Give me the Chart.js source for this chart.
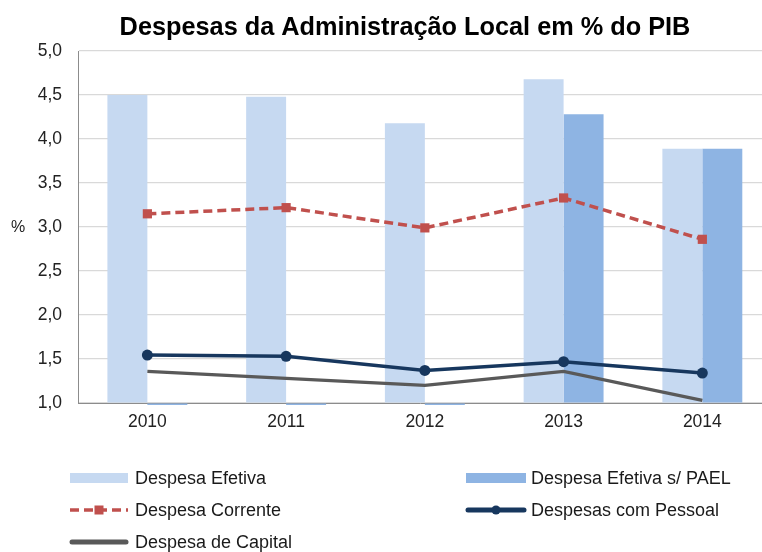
<!DOCTYPE html>
<html><head><meta charset="utf-8">
<script src="https://cdn.jsdelivr.net/npm/chart.js@4"></script>
<style>html,body{margin:0;padding:0;background:#fff;overflow:hidden}#wrap{width:762px;height:552px;position:relative}</style>
</head><body><div id="wrap"><canvas id="c" width="762" height="552"></canvas></div>
<script>
const chartTitle = 'Despesas da Administração Local em % do PIB';
const yAxisLabel = '%';
const years = ['2010', '2011', '2012', '2013', '2014'];
const despesaEfetiva = [4.50, 4.48, 4.18, 4.68, 3.89];
const despesaEfetivaPAEL = [0, 0, 0, 4.28, 3.89];
const despesaCorrente = [3.15, 3.22, 2.99, 3.33, 2.86];
const despesasPessoal = [1.545, 1.53, 1.37, 1.47, 1.34];
const despesaCapital = [1.36, 1.28, 1.20, 1.36, 1.03];
const seriesNames = ['Despesa Efetiva', 'Despesa Efetiva s/ PAEL', 'Despesa Corrente', 'Despesas com Pessoal', 'Despesa de Capital'];
const yMin = 1.0, yMax = 5.0, yStep = 0.5;

const FONT = "'Liberation Sans', Arial, sans-serif";
const toPts = arr => arr.map((v, i) => ({ x: i, y: v }));

const decoPlugin = {
  id: 'deco',
  afterDraw(chart) {
    const ctx = chart.ctx;
    ctx.save();
    ctx.fillStyle = '#000';
    ctx.font = "bold 25.3px " + FONT;
    ctx.textAlign = 'center';
    ctx.textBaseline = 'alphabetic';
    ctx.fillText(chartTitle, 405, 35);
    ctx.font = "16px " + FONT;
    ctx.fillStyle = '#222';
    ctx.textBaseline = 'middle';
    ctx.fillText(yAxisLabel, 18, 228);
    const cols = [{ x: 70, w: 58, tx: 135 }, { x: 466, w: 60, tx: 531 }];
    const rows = [478, 510, 542];
    const layout = [[0, 0, 0], [1, 1, 0], [2, 0, 1], [3, 1, 1], [4, 0, 2]];
    layout.forEach(([di, c, r]) => {
      const ds = chart.data.datasets[di];
      const col = cols[c], y = rows[r];
      if (ds.type === 'bar') {
        ctx.fillStyle = ds.backgroundColor;
        ctx.fillRect(col.x, y - 5, col.w, 10);
      } else {
        ctx.strokeStyle = ds.borderColor;
        ctx.lineWidth = ds.legendLineWidth || ds.borderWidth;
        ctx.lineCap = ds.borderDash ? 'butt' : 'round';
        ctx.setLineDash(ds.borderDash || []);
        ctx.beginPath();
        ctx.moveTo(col.x + (ds.borderDash ? 0 : 2), y);
        ctx.lineTo(col.x + col.w - (ds.borderDash ? 0 : 2), y);
        ctx.stroke();
        ctx.setLineDash([]);
        if (ds.pointRadius > 0) {
          ctx.fillStyle = ds.pointBackgroundColor;
          const cx = col.x + col.w / 2;
          if (ds.pointStyle === 'rect') {
            ctx.fillRect(cx - 4.5, y - 4.5, 9, 9);
          } else {
            ctx.beginPath();
            ctx.arc(cx, y, 4.5, 0, Math.PI * 2);
            ctx.fill();
          }
        }
      }
      ctx.fillStyle = '#1a1a1a';
      ctx.font = "18px " + FONT;
      ctx.textAlign = 'left';
      ctx.textBaseline = 'middle';
      ctx.fillText(ds.label, col.tx, y + 1);
    });
    ctx.restore();
  }
};

new Chart(document.getElementById('c'), {
  type: 'bar',
  data: {
    datasets: [
      { type: 'bar', label: seriesNames[0], data: toPts(despesaEfetiva), backgroundColor: '#C6D9F1', order: 5,
        base: yMin, categoryPercentage: 0.576, barPercentage: 1.0 },
      { type: 'bar', label: seriesNames[1], data: toPts(despesaEfetivaPAEL), backgroundColor: '#8EB4E3', order: 5,
        base: yMin, categoryPercentage: 0.576, barPercentage: 1.0, clip: { left: false, right: false, top: false, bottom: 2 } },
      { type: 'line', label: seriesNames[2], data: toPts(despesaCorrente), borderColor: '#C0504D', borderWidth: 3.5,
        borderDash: [9, 5], pointStyle: 'rect', pointRadius: 6.5, pointBackgroundColor: '#C0504D', pointBorderWidth: 0,
        tension: 0, fill: false, order: 3 },
      { type: 'line', label: seriesNames[3], data: toPts(despesasPessoal), borderColor: '#17375E', borderWidth: 3.5,
        legendLineWidth: 5, pointStyle: 'circle', pointRadius: 5.5, pointBackgroundColor: '#17375E', pointBorderWidth: 0,
        tension: 0, fill: false, order: 1 },
      { type: 'line', label: seriesNames[4], data: toPts(despesaCapital), borderColor: '#595959', borderWidth: 3.2,
        legendLineWidth: 5, pointRadius: 0, tension: 0, fill: false, order: 2 }
    ]
  },
  options: {
    responsive: false,
    animation: false,
    devicePixelRatio: 1,
    layout: { autoPadding: false, padding: { top: 51, left: 0, right: 0, bottom: 0 } },
    plugins: { legend: { display: false }, tooltip: { enabled: false }, title: { display: false } },
    scales: {
      x: {
        type: 'linear', min: -0.5, max: 4.43, offset: false,
        grid: { display: false, drawTicks: false },
        border: { display: true, color: '#8c8c8c', width: 1 },
        ticks: { stepSize: 1, includeBounds: false, autoSkip: false, maxRotation: 0, padding: 9, color: '#222',
          font: { family: FONT, size: 17.5 },
          callback: v => (Number.isInteger(v) && years[v] !== undefined) ? years[v] : '' },
        afterBuildTicks: s => { s.ticks = years.map((_, i) => ({ value: i })); },
        afterFit: s => { s.height = 149; s.paddingLeft = 0; s.paddingRight = 0; }
      },
      y: {
        min: yMin, max: yMax,
        grid: { color: '#D9D9D9', lineWidth: 1.2, drawTicks: false },
        border: { display: true, color: '#8c8c8c', width: 1 },
        ticks: { stepSize: yStep, padding: 16, color: '#222', font: { family: FONT, size: 17.5 },
          callback: v => v.toFixed(1).replace('.', ',') },
        afterFit: s => { s.width = 78; }
      }
    }
  },
  plugins: [decoPlugin]
});
</script></body></html>
